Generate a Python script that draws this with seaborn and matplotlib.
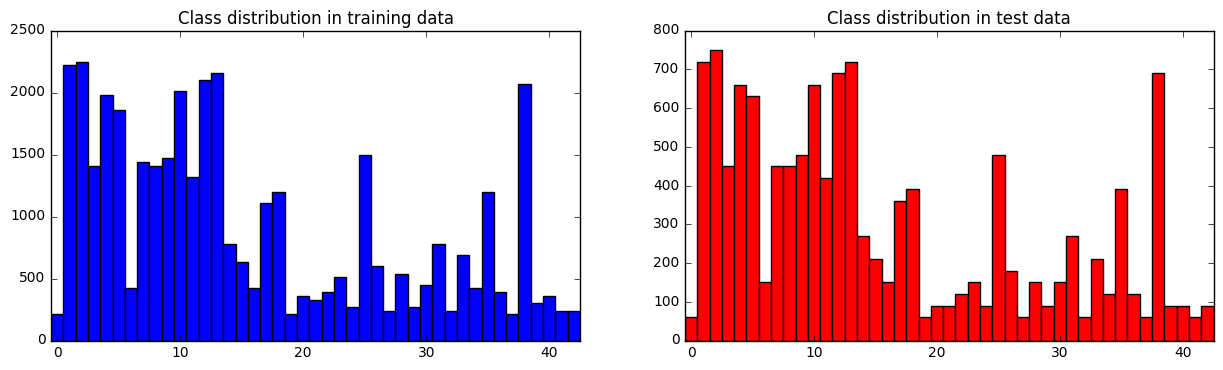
import matplotlib
matplotlib.use("Agg")
import matplotlib.pyplot as plt
import numpy as np
import pandas as pd
import seaborn as sns

plt.style.use("classic")

classes = list(range(43))
train_counts = [210, 2220, 2250, 1410, 1980, 1860, 420, 1440, 1410, 1470,
                2010, 1320, 2100, 2160, 780, 630, 420, 1110, 1200, 210,
                360, 330, 390, 510, 270, 1500, 600, 240, 540, 270,
                450, 780, 240, 689, 420, 1200, 390, 210, 2070, 300,
                360, 240, 240]
test_counts = [60, 720, 750, 450, 660, 630, 150, 450, 450, 480,
               660, 420, 690, 720, 270, 210, 150, 360, 390, 60,
               90, 90, 120, 150, 90, 480, 180, 60, 150, 90,
               150, 270, 60, 210, 120, 390, 120, 60, 690, 90,
               90, 60, 90]
titles = ["Class distribution in training data", "Class distribution in test data"]
colors = ["#0000ff", "#ff0000"]

plt.rcParams['font.family'] = ['DejaVu Sans']

fig = plt.figure(figsize=(12.23, 3.70), dpi=100, facecolor="white")
ax1 = fig.add_axes([51/1223, 1-340.5/370, (580-51)/1223, 310/370])
ax2 = fig.add_axes([685/1223, 1-340.5/370, (1213.5-685)/1223, 310/370])

for ax, counts, title, color, ymax, step in [
        (ax1, train_counts, titles[0], colors[0], 2500, 500),
        (ax2, test_counts, titles[1], colors[1], 800, 100)]:
    df = pd.DataFrame({"cls": classes, "n": counts})
    sns.histplot(data=df, x="cls", weights="n", discrete=True, ax=ax,
                 color=color, alpha=1, edgecolor="black", linewidth=1)
    ax.set_xlim(-0.5, 42.5)
    ax.set_ylim(0, ymax)
    ax.set_xticks([0, 10, 20, 30, 40])
    ax.set_yticks(np.arange(0, ymax + 1, step))
    ax.set_xlabel("")
    ax.set_ylabel("")
    ax.set_title(title, fontsize=12)
    ax.tick_params(labelsize=10)
    ax.set_facecolor("white")

fig.savefig("out.png", dpi=100, facecolor="white")
